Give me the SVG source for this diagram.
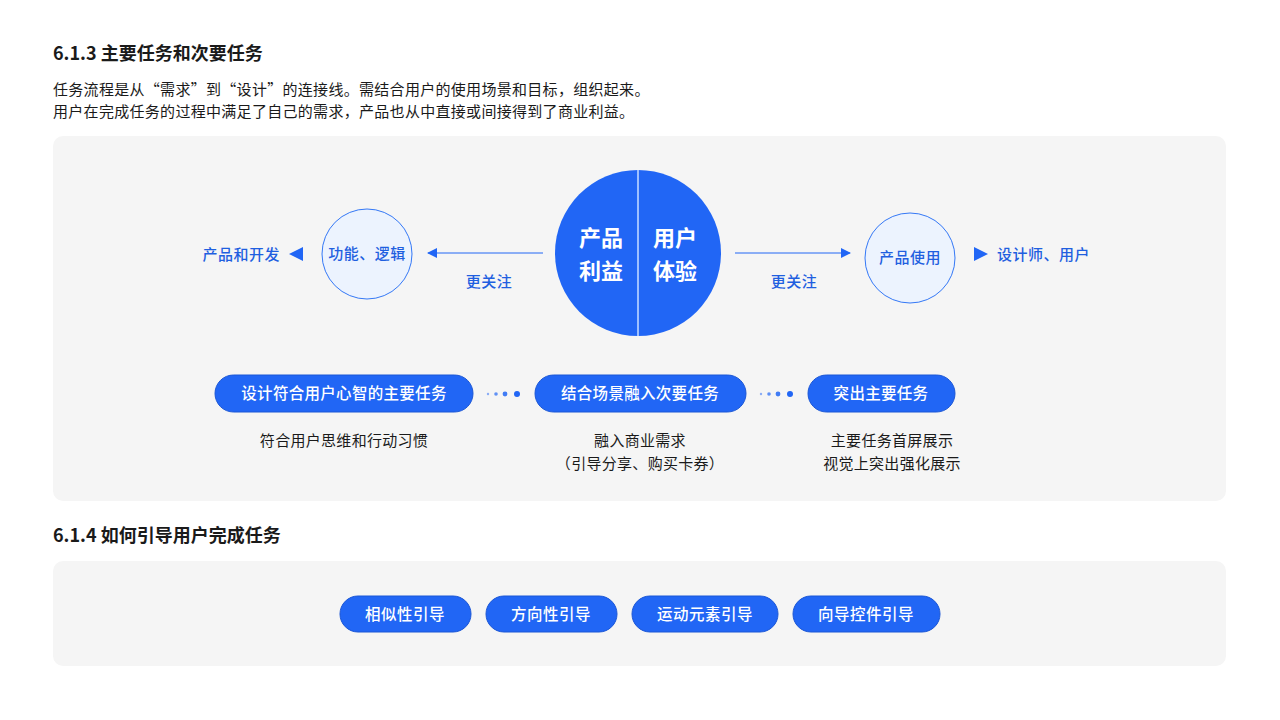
<svg xmlns="http://www.w3.org/2000/svg" width="1280" height="720" viewBox="0 0 1280 720">
<defs>
<style>
text{font-family:"Noto Sans CJK SC","Noto Sans",sans-serif}
.h{font-size:18px;font-weight:700;fill:#1a1a1a}
.p{font-size:15px;fill:#1a1a1a;letter-spacing:0.3px}
.b{font-size:15px;fill:#1f5fe0;font-weight:500;letter-spacing:0.5px}
.w{font-size:15.5px;fill:#fff;font-weight:500;letter-spacing:0.5px}
.wl{font-size:15.5px;fill:#fff;font-weight:500;letter-spacing:0.3px}
.pill{fill:#2166f5;stroke:#1a56d6;stroke-width:1}
.sc{fill:#ecf3fe;stroke:#3478f6;stroke-width:1}
</style>
<marker id="ar" viewBox="0 0 10 10" refX="9" refY="5" markerWidth="10" markerHeight="10" markerUnits="userSpaceOnUse" orient="auto"><path d="M0,0L10,5L0,10z" fill="#2166f5"/></marker>
</defs>
<rect width="1280" height="720" fill="#fff"/>
<text class="h" x="53" y="60">6.1.3 主要任务和次要任务</text>
<text class="p" x="53" y="95">任务流程是从“需求”到“设计”的连接线。需结合用户的使用场景和目标，组织起来。</text>
<text class="p" x="53" y="117">用户在完成任务的过程中满足了自己的需求，产品也从中直接或间接得到了商业利益。</text>
<rect x="53" y="136" width="1173" height="365" rx="10" fill="#f5f5f5"/>
<text class="h" x="53" y="542">6.1.4 如何引导用户完成任务</text>
<rect x="53" y="561" width="1173" height="105" rx="10" fill="#f5f5f5"/>
<g id="connectors" stroke="#2166f5" stroke-width="1" fill="none">
<line x1="543" y1="253" x2="428" y2="253" marker-end="url(#ar)"/>
<line x1="735" y1="253" x2="850" y2="253" marker-end="url(#ar)"/>
</g>
<g id="center">
<circle cx="638" cy="253" r="83" fill="#2166f5"/>
<line x1="638" y1="170" x2="638" y2="336" stroke="#9ec0ff" stroke-width="2"/>
<text x="601" y="246" font-size="22" font-weight="700" fill="#fff" text-anchor="middle">产品</text>
<text x="601" y="279" font-size="22" font-weight="700" fill="#fff" text-anchor="middle">利益</text>
<text x="675" y="246" font-size="22" font-weight="700" fill="#fff" text-anchor="middle">用户</text>
<text x="675" y="279" font-size="22" font-weight="700" fill="#fff" text-anchor="middle">体验</text>
</g>
<g id="left">
<circle class="sc" cx="367" cy="254" r="45"/>
<text class="b" x="367" y="259" text-anchor="middle">功能、逻辑</text>
<text class="b" x="489" y="287" text-anchor="middle">更关注</text>
<path d="M289,254L303,247L303,261z" fill="#2166f5"/>
<text class="b" x="280" y="260" text-anchor="end">产品和开发</text>
</g>
<g id="right">
<circle class="sc" cx="910" cy="258" r="45"/>
<text class="b" x="910" y="263" text-anchor="middle">产品使用</text>
<text class="b" x="794" y="287" text-anchor="middle">更关注</text>
<path d="M988,254L974,247L974,261z" fill="#2166f5"/>
<text class="b" x="997" y="260">设计师、用户</text>
</g>
<g id="tasks">
<rect class="pill" x="215" y="375" width="258" height="37" rx="18.5"/>
<text class="wl" x="344" y="399" text-anchor="middle">设计符合用户心智的主要任务</text>
<rect class="pill" x="535" y="375" width="211" height="37" rx="18.5"/>
<text class="wl" x="640" y="399" text-anchor="middle">结合场景融入次要任务</text>
<rect class="pill" x="808" y="375" width="147" height="37" rx="18.5"/>
<text class="wl" x="881" y="399" text-anchor="middle">突出主要任务</text>
<g fill="#2166f5">
<circle cx="488" cy="394" r="1.2" opacity="0.5"/><circle cx="496" cy="394" r="1.8" opacity="0.7"/><circle cx="505" cy="394" r="2.4" opacity="0.85"/><circle cx="517" cy="394" r="3"/>
<circle cx="761" cy="394" r="1.2" opacity="0.5"/><circle cx="769" cy="394" r="1.8" opacity="0.7"/><circle cx="778" cy="394" r="2.4" opacity="0.85"/><circle cx="790" cy="394" r="3"/>
</g>
<text class="p" x="344" y="446" text-anchor="middle">符合用户思维和行动习惯</text>
<text class="p" x="640" y="446" text-anchor="middle">融入商业需求</text>
<text class="p" x="640" y="469" text-anchor="middle">（引导分享、购买卡券）</text>
<text class="p" x="892" y="446" text-anchor="middle">主要任务首屏展示</text>
<text class="p" x="892" y="469" text-anchor="middle">视觉上突出强化展示</text>
</g>
<g id="guides">
<rect class="pill" x="340" y="596" width="131" height="36" rx="18"/>
<text class="w" x="405" y="620" text-anchor="middle">相似性引导</text>
<rect class="pill" x="486" y="596" width="131" height="36" rx="18"/>
<text class="w" x="551" y="620" text-anchor="middle">方向性引导</text>
<rect class="pill" x="632" y="596" width="146" height="36" rx="18"/>
<text class="w" x="705" y="620" text-anchor="middle">运动元素引导</text>
<rect class="pill" x="793" y="596" width="147" height="36" rx="18"/>
<text class="w" x="866" y="620" text-anchor="middle">向导控件引导</text>
</g>
</svg>
